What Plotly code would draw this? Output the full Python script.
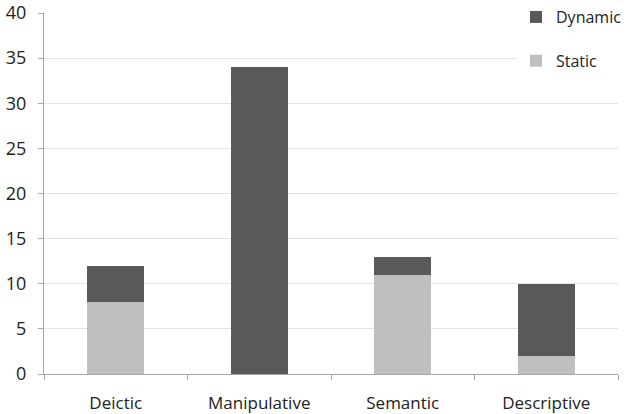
import plotly.graph_objects as go

categories = ["Deictic", "Manipulative", "Semantic", "Descriptive"]
static_vals = [8, 0, 11, 2]
dynamic_vals = [4, 34, 2, 8]
y_ticks = [0, 5, 10, 15, 20, 25, 30, 35, 40]

fig = go.Figure()
fig.add_trace(go.Bar(x=categories, y=static_vals, name="Static",
                     marker=dict(color="#bfbfbf", line=dict(width=0)),
                     legendgroup="s", legendrank=2))
fig.add_trace(go.Bar(x=categories, y=dynamic_vals, name="Dynamic",
                     marker=dict(color="#595959", line=dict(width=0)),
                     legendgroup="d", legendrank=1))

font_family = "Open Sans, DejaVu Sans, sans-serif"
fig.update_layout(
    barmode="stack",
    bargap=0.6,
    width=627, height=414,
    margin=dict(l=44, r=9, t=13, b=40, autoexpand=False),
    paper_bgcolor="white", plot_bgcolor="white",
    font=dict(family=font_family, size=16, color="#222222"),
    showlegend=True,
    legend=dict(x=1.0, y=1.0, xref="container", yref="container",
                xanchor="right", yanchor="top",
                bgcolor="white", traceorder="grouped",
                tracegroupgap=20, font=dict(size=16, color="#222222"),
                itemwidth=30),
    xaxis=dict(showline=True, linecolor="#a6a6a6", linewidth=1,
               ticks="outside", tickson="boundaries", ticklen=5,
               tickcolor="#a6a6a6", ticklabelstandoff=14, automargin=False,
               tickfont=dict(size=17, color="#222222"), showgrid=False),
    yaxis=dict(range=[0, 40], tickvals=y_ticks, showline=True,
               linecolor="#a6a6a6", linewidth=1, ticks="outside",
               ticklen=5, tickcolor="#a6a6a6", gridcolor="#e3e3e3",
               ticklabelstandoff=8, automargin=False,
               tickfont=dict(size=18, color="#222222"), zeroline=False),
)

fig.write_html("out.html")
